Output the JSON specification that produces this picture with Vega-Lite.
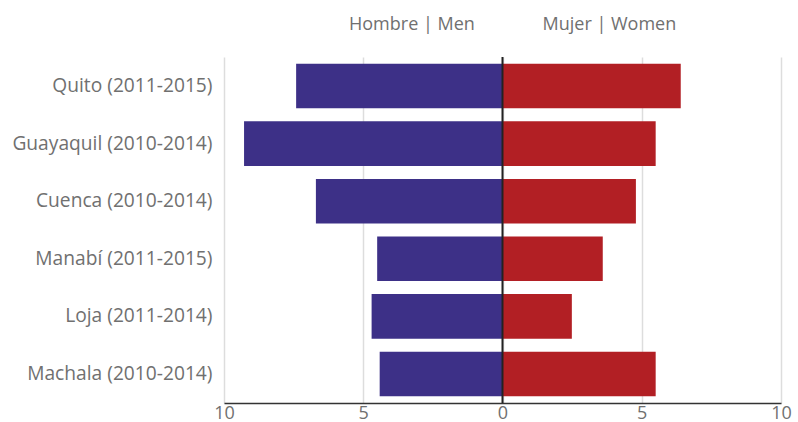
{
  "$schema": "https://vega.github.io/schema/vega-lite/v6.json",
  "autosize": "none",
  "width": 557,
  "height": 346,
  "padding": {"left": 224, "top": 57, "right": 17, "bottom": 19},
  "background": "white",
  "config": {"view": {"stroke": null}, "font": "Open Sans"},
  "data": {
    "values": [
      {"city": "Quito (2011-2015)", "sex": "Hombre | Men", "value": -7.41},
      {"city": "Quito (2011-2015)", "sex": "Mujer | Women", "value": 6.4},
      {"city": "Guayaquil (2010-2014)", "sex": "Hombre | Men", "value": -9.28},
      {"city": "Guayaquil (2010-2014)", "sex": "Mujer | Women", "value": 5.5},
      {"city": "Cuenca (2010-2014)", "sex": "Hombre | Men", "value": -6.7},
      {"city": "Cuenca (2010-2014)", "sex": "Mujer | Women", "value": 4.79},
      {"city": "Manabí (2011-2015)", "sex": "Hombre | Men", "value": -4.5},
      {"city": "Manabí (2011-2015)", "sex": "Mujer | Women", "value": 3.6},
      {"city": "Loja (2011-2014)", "sex": "Hombre | Men", "value": -4.7},
      {"city": "Loja (2011-2014)", "sex": "Mujer | Women", "value": 2.49},
      {"city": "Machala (2010-2014)", "sex": "Hombre | Men", "value": -4.41},
      {"city": "Machala (2010-2014)", "sex": "Mujer | Women", "value": 5.5}
    ]
  },
  "layer": [
    {
      "mark": {"type": "bar"},
      "encoding": {
        "y": {
          "field": "city",
          "type": "nominal",
          "sort": null,
          "scale": {"paddingInner": 0.226, "paddingOuter": 0.117},
          "axis": {
            "title": null,
            "domain": false,
            "ticks": false,
            "labelPadding": 12,
            "labelFontSize": 19.2,
            "labelLimit": 400,
            "labelColor": "#707070",
            "labelFont": "Open Sans"
          }
        },
        "x": {
          "field": "value",
          "type": "quantitative",
          "scale": {"domain": [-10, 10], "nice": false},
          "axis": {
            "title": null,
            "values": [-10, -5, 0, 5, 10],
            "labelExpr": "abs(datum.value)",
            "labelFontSize": 18,
            "labelColor": "#707070",
            "labelFont": "Open Sans",
            "labelPadding": 1,
            "ticks": false,
            "domainColor": "#333333",
            "domainWidth": 1.5,
            "grid": true,
            "gridColor": "#dddddd",
            "gridWidth": 1.5,
            "labelFlush": false
          }
        },
        "color": {
          "field": "sex",
          "type": "nominal",
          "scale": {"domain": ["Hombre | Men", "Mujer | Women"], "range": ["#3d3087", "#b21f24"]},
          "legend": null
        }
      }
    },
    {
      "data": {"values": [{"zero": 0}]},
      "mark": {"type": "rule", "color": "#222222", "strokeWidth": 2},
      "encoding": {
        "x": {
          "field": "zero",
          "type": "quantitative",
          "axis": {
            "orient": "top",
            "title": null,
            "domain": false,
            "ticks": false,
            "tickSize": 0,
            "grid": false,
            "values": [-3.27, 3.82],
            "labelExpr": "datum.value < 0 ? 'Hombre | Men' : 'Mujer | Women'",
            "labelFontSize": 18,
            "labelColor": "#707070",
            "labelFont": "Open Sans",
            "labelPadding": 24
          }
        }
      }
    }
  ],
  "resolve": {"axis": {"x": "independent"}}
}
